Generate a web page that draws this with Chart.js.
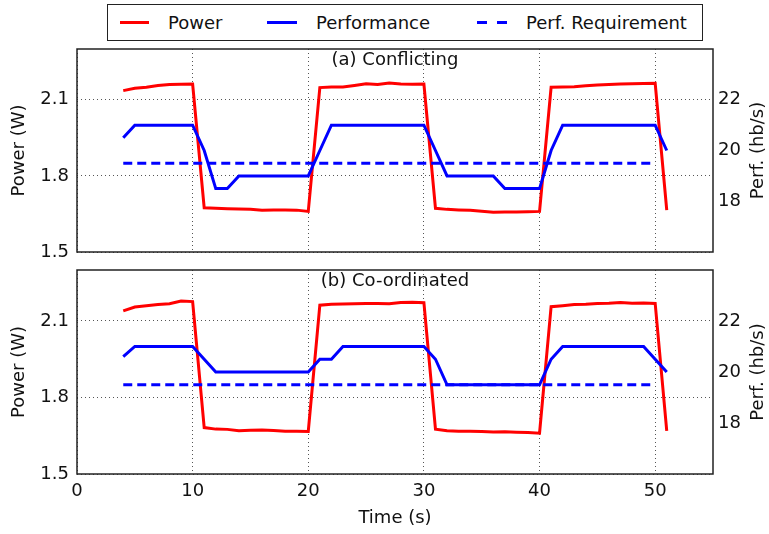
<!DOCTYPE html>
<html lang="en">

<head>
    <meta charset="UTF-8">
    <title>Power vs performance</title>
    <script src="https://cdn.jsdelivr.net/npm/chart.js"></script>
    <style>
        body { margin: 0; background: #fff; font-family: "DejaVu Sans", sans-serif; }
        #page { position: relative; width: 769px; height: 534px; overflow: hidden; }
        #page canvas { position: absolute; left: 0; }
        .legend-box { position: absolute; left: 107px; top: 4px; width: 596px; height: 37px; box-sizing: border-box; border: 1.5px solid #222; }
        .legend-line { position: absolute; top: 21px; height: 3px; }
        .legend-text { position: absolute; top: 12px; line-height: 22px; font-size: 18px; color: #111; white-space: nowrap; }
    </style>
</head>

<body>
    <div id="page">
        <!-- legenda comum aos dois paineis -->
        <div class="legend-box"></div>
        <div class="legend-line" style="left:120px; width:29px; background:#ff0000;"></div>
        <div class="legend-text" style="left:168px;">Power</div>
        <div class="legend-line" style="left:267px; width:30px; background:#0000ff;"></div>
        <div class="legend-text" style="left:316px;">Performance</div>
        <div class="legend-line" style="left:477px; width:10px; background:#0000ff;"></div>
        <div class="legend-line" style="left:497px; width:10px; background:#0000ff;"></div>
        <div class="legend-text" style="left:526px;">Perf. Requirement</div>

        <canvas id="chartTop" width="769" height="222" style="top:40px;"></canvas>
        <canvas id="chartBottom" width="769" height="272" style="top:262px;"></canvas>
    </div>

<script>
    // time axis (s)
    var times = [4, 5, 6, 7, 8, 9, 10, 11, 12, 13, 14, 15, 16, 17, 18, 19, 20, 21, 22, 23, 24, 25, 26, 27,
        28, 29, 30, 31, 32, 33, 34, 35, 36, 37, 38, 39, 40, 41, 42, 43, 44, 45, 46, 47, 48, 49, 50, 51];

    // (a) Conflicting
    var powerConflicting = [2.136, 2.145, 2.149, 2.156, 2.160, 2.161, 2.162, 1.674, 1.672, 1.670, 1.669, 1.668,
        1.665, 1.666, 1.666, 1.665, 1.660, 2.148, 2.150, 2.150, 2.156, 2.163, 2.160, 2.166, 2.162, 2.161,
        2.162, 1.672, 1.668, 1.666, 1.665, 1.661, 1.657, 1.658, 1.658, 1.659, 1.660, 2.149, 2.150, 2.151,
        2.155, 2.158, 2.160, 2.162, 2.163, 2.164, 2.165, 1.665];
    var perfConflicting = [20.5, 21, 21, 21, 21, 21, 21, 20, 18.5, 18.5, 19, 19, 19, 19, 19, 19, 19, 20, 21, 21,
        21, 21, 21, 21, 21, 21, 21, 20, 19, 19, 19, 19, 19, 18.5, 18.5, 18.5, 18.5, 20, 21, 21, 21, 21, 21,
        21, 21, 21, 21, 20];
    var reqConflicting = [19.5, 19.5, 19.5, 19.5, 19.5, 19.5, 19.5, 19.5, 19.5, 19.5, 19.5, 19.5, 19.5, 19.5,
        19.5, 19.5, 19.5, 19.5, 19.5, 19.5, 19.5, 19.5, 19.5, 19.5, 19.5, 19.5, 19.5, 19.5, 19.5, 19.5, 19.5,
        19.5, 19.5, 19.5, 19.5, 19.5, 19.5, 19.5, 19.5, 19.5, 19.5, 19.5, 19.5, 19.5, 19.5, 19.5, 19.5, null];

    // (b) Co-ordinated
    var powerCoordinated = [2.140, 2.155, 2.160, 2.165, 2.168, 2.178, 2.176, 1.682, 1.676, 1.675, 1.670, 1.672,
        1.673, 1.671, 1.668, 1.668, 1.667, 2.162, 2.166, 2.167, 2.168, 2.169, 2.169, 2.168, 2.173, 2.174,
        2.172, 1.676, 1.670, 1.668, 1.668, 1.667, 1.665, 1.666, 1.664, 1.663, 1.660, 2.156, 2.160, 2.165,
        2.166, 2.169, 2.170, 2.173, 2.170, 2.171, 2.169, 1.669];
    var perfCoordinated = [20.6, 21, 21, 21, 21, 21, 21, 20.5, 20, 20, 20, 20, 20, 20, 20, 20, 20, 20.5, 20.5,
        21, 21, 21, 21, 21, 21, 21, 21, 20.5, 19.5, 19.5, 19.5, 19.5, 19.5, 19.5, 19.5, 19.5, 19.5, 20.5, 21,
        21, 21, 21, 21, 21, 21, 21, 20.5, 20];
    var reqCoordinated = [19.5, 19.5, 19.5, 19.5, 19.5, 19.5, 19.5, 19.5, 19.5, 19.5, 19.5, 19.5, 19.5, 19.5,
        19.5, 19.5, 19.5, 19.5, 19.5, 19.5, 19.5, 19.5, 19.5, 19.5, 19.5, 19.5, 19.5, 19.5, 19.5, 19.5, 19.5,
        19.5, 19.5, 19.5, 19.5, 19.5, 19.5, 19.5, 19.5, 19.5, 19.5, 19.5, 19.5, 19.5, 19.5, 19.5, 19.5, null];

    // tick labels
    var timeTicks = [0, 10, 20, 30, 40, 50];
    var powerTicks = [1.5, 1.8, 2.1];
    var perfTicks = [18, 20, 22];

    Chart.defaults.font.family = '"DejaVu Sans", sans-serif';
    Chart.defaults.font.size = 18;
    Chart.defaults.color = '#111';
    Chart.defaults.animation = false;

    // caixa preta em volta do grafico, rotulo do painel e titulo do eixo direito (lido de baixo pra cima)
    var frame = {
        id: 'frame',
        afterDraw: function (chart, args, opts) {
            var a = chart.chartArea;
            var ctx = chart.ctx;
            ctx.save();
            ctx.strokeStyle = '#222';
            ctx.lineWidth = 1.5;
            ctx.strokeRect(a.left, a.top, a.right - a.left, a.bottom - a.top);
            ctx.fillStyle = '#111';
            ctx.font = '18px "DejaVu Sans"';
            ctx.textAlign = 'center';
            ctx.textBaseline = 'middle';
            ctx.fillText(opts.label, (a.left + a.right) / 2, a.top + 11);
            ctx.translate(758, (a.top + a.bottom) / 2);
            ctx.rotate(-Math.PI / 2);
            ctx.fillText('Perf. (hb/s)', 0, 0);
            ctx.restore();
        }
    };

    function points(values) {
        return times.map(function (t, i) { return { x: t, y: values[i] }; });
    }

    function setTicks(list) {
        return function (scale) {
            scale.ticks = list.map(function (v) { return { value: v }; });
        };
    }

    // fixa o tamanho do eixo e zera o padding extra que o Chart.js poe pros rotulos das pontas
    function fixSize(prop, size) {
        return function (s) {
            s[prop] = size;
            s.paddingTop = 0;
            s.paddingBottom = 0;
            s.paddingLeft = 0;
            s.paddingRight = 0;
        };
    }

    function panelConfig(label, power, perf, req, bottomPanel) {
        return {
            type: 'line',
            data: {
                datasets: [
                    {
                        label: 'Performance',
                        data: points(perf),
                        yAxisID: 'yPerf',
                        borderColor: '#0000ff',
                        borderWidth: 3,
                        order: 1
                    },
                    {
                        label: 'Perf. Requirement',
                        data: points(req),
                        yAxisID: 'yPerf',
                        borderColor: '#0000ff',
                        borderWidth: 3,
                        borderDash: [9, 5],
                        order: 2
                    },
                    {
                        label: 'Power',
                        data: points(power),
                        yAxisID: 'yPower',
                        borderColor: '#ff0000',
                        borderWidth: 3,
                        order: 3
                    }
                ]
            },
            options: {
                responsive: false,
                layout: { padding: { top: bottomPanel ? 8 : 9, left: 0, right: 0, bottom: 0 } },
                elements: { point: { radius: 0 }, line: { tension: 0 } },
                plugins: {
                    legend: { display: false },
                    tooltip: { enabled: false },
                    frame: { label: label }
                },
                scales: {
                    x: {
                        type: 'linear',
                        min: 0,
                        max: 55,
                        afterBuildTicks: setTicks(timeTicks),
                        afterFit: fixSize('height', bottomPanel ? 60 : 10),
                        grid: { color: '#555', lineWidth: 1, drawTicks: false },
                        border: { display: false, dash: [1, 3] },
                        ticks: { display: bottomPanel, padding: 7 },
                        title: { display: bottomPanel, text: 'Time (s)', padding: { top: 0, bottom: 5 } }
                    },
                    yPower: {
                        position: 'left',
                        min: 1.5,
                        max: 2.3,
                        afterBuildTicks: setTicks(powerTicks),
                        afterFit: fixSize('width', 77),
                        grid: { color: '#555', lineWidth: 1, drawTicks: false },
                        border: { display: false, dash: [1, 3] },
                        ticks: { padding: 8, callback: function (v) { return v.toFixed(1); } },
                        title: { display: true, text: 'Power (W)', padding: { top: 9, bottom: 0 } }
                    },
                    yPerf: {
                        position: 'right',
                        min: 16,
                        max: 24,
                        afterBuildTicks: setTicks(perfTicks),
                        afterFit: fixSize('width', 56),
                        grid: { drawOnChartArea: false, drawTicks: false },
                        border: { display: false },
                        ticks: { padding: 5 }
                    }
                }
            },
            plugins: [frame]
        };
    }

    var ctxTop = document.getElementById('chartTop').getContext('2d');
    var chartTop = new Chart(ctxTop, panelConfig('(a) Conflicting', powerConflicting, perfConflicting, reqConflicting, false));

    var ctxBottom = document.getElementById('chartBottom').getContext('2d');
    var chartBottom = new Chart(ctxBottom, panelConfig('(b) Co-ordinated', powerCoordinated, perfCoordinated, reqCoordinated, true));
</script>
</body>

</html>
